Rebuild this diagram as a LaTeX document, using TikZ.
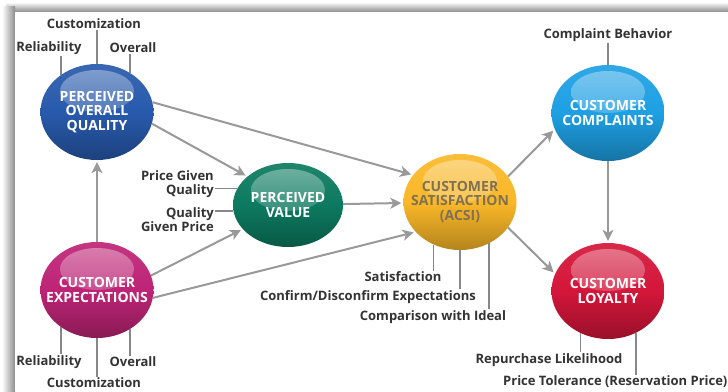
\documentclass[tikz,border=0pt]{standalone}
\usepackage{fontspec}
\setmainfont{Open Sans}
\usetikzlibrary{arrows.meta, shapes.geometric, positioning}
\definecolor{poqblue}{RGB}{40,90,172}
\definecolor{cemag}{RGB}{190,36,118}
\definecolor{pvgreen}{RGB}{12,122,96}
\definecolor{csyellow}{RGB}{250,184,40}
\definecolor{cstext}{RGB}{128,112,84}
\definecolor{ccblue}{RGB}{30,160,228}
\definecolor{clred}{RGB}{212,22,58}

\begin{document}
\begin{tikzpicture}[x=1pt, y=-1pt,
    orb/.style={ellipse, minimum width=113pt, minimum height=96pt, inner xsep=-16pt, inner ysep=-4pt,
        align=center, text=white, font=\fontsize{14}{14.5}\selectfont\bfseries,
        top color=#1!92!white, bottom color=#1!72!black, middle color=#1,
        path picture={\shade[top color=white!55!#1, bottom color=#1, opacity=.75]
            ([yshift=-27pt]path picture bounding box.north) ellipse (37pt and 21pt);}},
    lbl/.style={inner sep=1pt, text=black!80, font=\fontsize{13}{14}\selectfont\bfseries},
    tick/.style={draw=black!47, line width=1.5pt},
    link/.style={draw=black!40, line width=2pt, -{Stealth[length=11pt, width=11pt, inset=3pt]}, shorten >=2pt}]
    \useasboundingbox (0,0) rectangle (728,391);
    \fill[white] (0,0) rectangle (728,391);
    \shade[top color=white, bottom color=black!45] (6,2) rectangle (728,12);
    \shade[left color=white, right color=black!45] (2,6) rectangle (15,391);
    \fill[white] (15,12) rectangle (728,391);

    \node[orb=poqblue] (poq) at (97,112) {PERCEIVED\\OVERALL\\QUALITY};
    \node[orb=cemag] (ce) at (97,290) {CUSTOMER\\EXPECTATIONS};
    \node[orb=pvgreen, minimum width=110pt, minimum height=84pt] (pv) at (288,205) {PERCEIVED\\VALUE};
    \node[orb=csyellow, text=cstext] (cs) at (460,202) {CUSTOMER\\SATISFACTION\\(ACSI)};
    \node[orb=ccblue] (cc) at (608,113) {CUSTOMER\\COMPLAINTS};
    \node[orb=clred] (cl) at (608,291) {CUSTOMER\\LOYALTY};

    \node[lbl] (poqcust) at (94,24) {Customization};
    \node[lbl] (poqreli) at (49,48) {Reliability};
    \node[lbl] (poqover) at (133,48) {Overall};
    \node[lbl] (cereli) at (49,362) {Reliability};
    \node[lbl] (ceover) at (133,362) {Overall};
    \node[lbl] (cecust) at (94,383) {Customization};
    \node[lbl, align=right, anchor=east] (pvpgq) at (215,184) {Price Given\\Quality};
    \node[lbl, align=right, anchor=east] (pvqgp) at (215,220) {Quality\\Given Price};
    \node[lbl] (cssat) at (403,277) {Satisfaction};
    \node[lbl] (cscde) at (368,297) {Confirm/Disconfirm Expectations};
    \node[lbl] (cscwi) at (433,317) {Comparison with Ideal};
    \node[lbl] (ccbeh) at (608,35) {Complaint Behavior};
    \node[lbl] (clrep) at (549,360) {Repurchase Likelihood};
    \node[lbl, anchor=west] (clpt) at (502,382) {Price Tolerance (Reservation Price)};

    \draw[tick] (poq.134) -- (poq.134 |- poqreli.south);
    \draw[tick] (poq.north) -- (poq.north |- poqcust.south);
    \draw[tick] (poq.50) -- (poq.50 |- poqover.south);
    \draw[tick] (ce.-134) -- (ce.-134 |- cereli.north);
    \draw[tick] (ce.south) -- (ce.south |- cecust.north);
    \draw[tick] (ce.-50) -- (ce.-50 |- ceover.north);
    \draw[tick] (pv.162) -- (pv.162 -| pvpgq.east);
    \draw[tick] (pv.186) -- (pv.186 -| pvqgp.east);
    \draw[tick] (cs.-122) -- (cs.-122 |- cssat.north);
    \draw[tick] (cs.south) -- (cs.south |- cscde.north);
    \draw[tick] (cs.-55) -- (cs.-55 |- cscwi.north);
    \draw[tick] (cc.north) -- (cc.north |- ccbeh.south);
    \draw[tick] (cl.-123) -- (cl.-123 |- clrep.north);
    \draw[tick] (cl.-56) -- (cl.-56 |- clpt.north);

    \draw[link] (poq.10) -- (cs.150);
    \draw[link] (poq.-12) -- (pv.145);
    \draw[link] (ce.north) -- (poq.south);
    \draw[link] (ce.15) -- (pv.208);
    \draw[link] (ce.-8) -- (cs.214);
    \draw[link] (pv) -- (cs);
    \draw[link] (cs.28) -- (cc.197);
    \draw[link] (cs.-28) -- (cl.162);
    \draw[link] (cc.south) -- (cl.north);
\end{tikzpicture}
\end{document}
